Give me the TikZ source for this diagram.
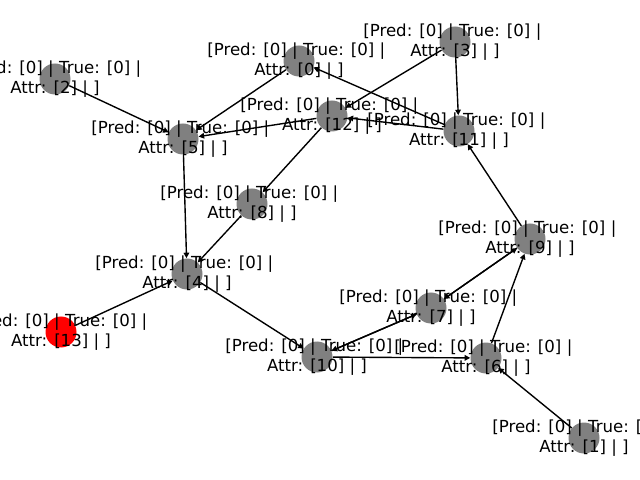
\documentclass[tikz,border=0pt]{standalone}
\usepackage{fontspec}
\setmainfont{DejaVu Sans}
\usetikzlibrary{arrows.meta}
\definecolor{NodeGrey}{HTML}{808080}
\definecolor{TargetNode}{HTML}{FF0000}
\newcommand{\GraphPixel}{0.254}
\newcommand\StateLabel[1]{[Pred: [0] | True: [0] |\hspace*{0.318em}\\Attr: [#1] | ]}

\begin{document}
\begin{tikzpicture}[x=\GraphPixel mm, y=-\GraphPixel mm,
                    vertex/.style = { circle, fill=NodeGrey, minimum size=31*\GraphPixel mm, inner sep=0pt },
                    target/.style = { vertex, fill=TargetNode },
                    statelabel/.style = { align=center, inner sep=0pt, font=\fontsize{12pt}{14.4pt}\selectfont },
                    edge/.style = { -{Triangle[length=4pt, width=4pt]}, line width=1pt, black }]

  \path[use as bounding box, clip] (0,0) rectangle (640,480);

  \node (n0) at(299, 61)   [vertex] {};
  \node (n1) at(584, 438)  [vertex] {};
  \node (n2) at(55, 79)    [vertex] {};
  \node (n3) at(455, 42)   [vertex] {};
  \node (n4) at(187, 274)  [vertex] {};
  \node (n5) at(183, 139)  [vertex] {};
  \node (n6) at(486, 358)  [vertex] {};
  \node (n7) at(431, 308)  [vertex] {};
  \node (n8) at(252, 204)  [vertex] {};
  \node (n9) at(530, 239)  [vertex] {};
  \node (n10) at(317, 357) [vertex] {};
  \node (n11) at(459, 131) [vertex] {};
  \node (n12) at(332, 116) [vertex] {};
  \node (n13) at(61, 332)  [target] {};

  \draw [edge] (n2) -- (n5);
  \draw [edge] (n0) -- (n5);
  \draw [edge] (n12) -- (n5);
  \draw [edge] (n3) -- (n12);
  \draw [edge] (n11) -- (n12);
  \draw [edge] (n11) -- (n0);
  \draw [edge] (n3) -- (n11);
  \draw [edge] (n9) -- (n11);
  \draw [edge] (n12) -- (n8);
  \draw [edge] (n5) -- (n4);
  \draw [edge] (n8) -- (n4);
  \draw [edge] (n13) -- (n4);
  \draw [edge] (n4) -- (n10);
  \draw [edge] (n10) -- (n6);
  \draw [edge] (n10) -- (n7);
  \draw [edge] (n7) -- (n10);
  \draw [edge] (n7) -- (n9);
  \draw [edge] (n9) -- (n7);
  \draw [edge] (n6) -- (n9);
  \draw [edge] (n1) -- (n6);

  \node (l0) at(n0)   [statelabel] {\StateLabel{0}};
  \node (l1) at(n1)   [statelabel] {\StateLabel{1}};
  \node (l2) at(n2)   [statelabel] {\StateLabel{2}};
  \node (l3) at(n3)   [statelabel] {\StateLabel{3}};
  \node (l4) at(n4)   [statelabel] {\StateLabel{4}};
  \node (l5) at(n5)   [statelabel] {\StateLabel{5}};
  \node (l6) at(n6)   [statelabel] {\StateLabel{6}};
  \node (l7) at(n7)   [statelabel] {\StateLabel{7}};
  \node (l8) at(n8)   [statelabel] {\StateLabel{8}};
  \node (l9) at(n9)   [statelabel] {\StateLabel{9}};
  \node (l10) at(n10) [statelabel] {\StateLabel{10}};
  \node (l11) at(n11) [statelabel] {\StateLabel{11}};
  \node (l12) at(n12) [statelabel] {\StateLabel{12}};
  \node (l13) at(n13) [statelabel] {\StateLabel{13}};
\end{tikzpicture}
\end{document}
